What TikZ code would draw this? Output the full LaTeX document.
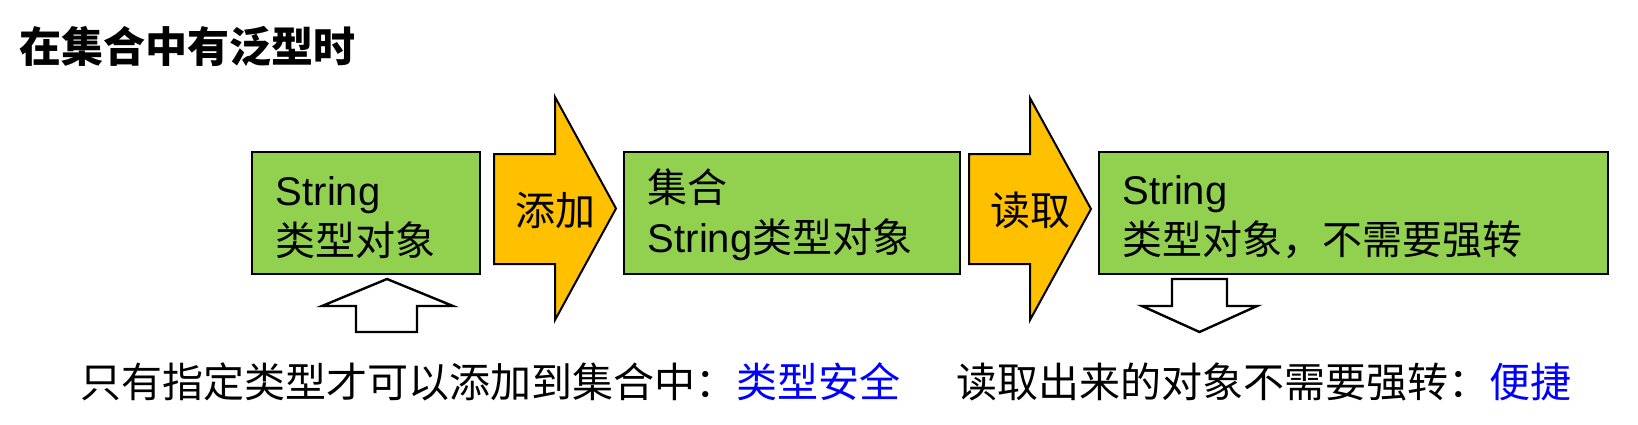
\documentclass[tikz,border=0pt]{standalone}
\usepackage{fontspec}
\setmainfont{Liberation Sans}
\newfontfamily\cjk{Noto Sans CJK SC}
\usepackage{tikz}
\definecolor{boxgreen}{HTML}{92D050}
\definecolor{arroworange}{HTML}{FFC000}
\definecolor{hintblue}{HTML}{0000FF}

\begin{document}
\begin{tikzpicture}[x=1pt, y=-1pt,
    box/.style={draw=black, line width=1.8pt, fill=boxgreen, anchor=north west,
      minimum height=122pt, inner xsep=24pt, inner ysep=0pt, align=left,
      font=\fontsize{40}{50}\selectfont, execute at begin node=\rule{0pt}{38pt}},
    fatarrow/.style={draw=black, line width=2pt, fill=arroworange},
    hollowarrow/.style={draw=black, line width=2.4pt, fill=white},
    arrowlabel/.style={inner sep=0pt, font=\cjk\fontsize{40}{40}\selectfont},
    remark/.style={anchor=base west, inner sep=0pt, font=\cjk\fontsize{41}{41}\selectfont}]
    \useasboundingbox (0,0) rectangle (1638,424);

    % titolo
    \node[anchor=base west, inner sep=0pt, font=\cjk\bfseries\fontsize{42}{42}\selectfont]
      (title) at (19,62) {在集合中有泛型时};

    % caselle
    \node[box, text width=180pt] (strobj) at (251,151) {String\\{\cjk 类型对象}};
    \node[box, text width=288pt] (coll) at (623,151) {{\cjk 集合}\\String{\cjk 类型对象}};
    \node[box, text width=461pt] (readobj) at (1098,151) {String\\{\cjk 类型对象，不需要强转}};

    % frecce grosse
    \draw[fatarrow] (494,154) -- (555,154) -- (555,97) -- (616,208.5)
      -- (555,320) -- (555,264) -- (494,264) -- cycle;
    \node[arrowlabel] (addlbl) at (555,210) {添加};

    \draw[fatarrow] (969,154) -- (1030,154) -- (1030,98) -- (1091,209)
      -- (1030,320) -- (1030,264) -- (969,264) -- cycle;
    \node[arrowlabel] (readlbl) at (1030,210) {读取};

    % frecce vuote
    \draw[hollowarrow] (387,279) -- (453,306) -- (417,306) -- (417,332)
      -- (356,332) -- (356,306) -- (322,306) -- cycle;
    \draw[hollowarrow] (1172,279) -- (1227,279) -- (1227,306) -- (1257,306)
      -- (1199.5,332) -- (1142,306) -- (1172,306) -- cycle;

    % note
    \node[remark] (safety) at (80,397) {只有指定类型才可以添加到集合中：\textcolor{hintblue}{类型安全}};
    \node[remark] (handy) at (956,397) {读取出来的对象不需要强转：\textcolor{hintblue}{便捷}};
\end{tikzpicture}
\end{document}
